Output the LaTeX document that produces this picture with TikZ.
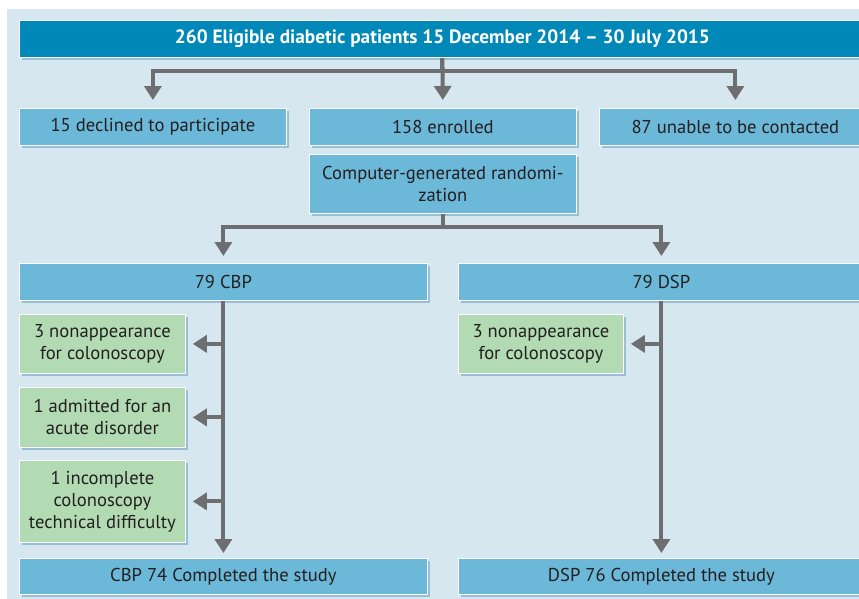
\documentclass[tikz,border=0pt]{standalone}
\usepackage{fontspec}
\setmainfont{PT Sans}
\usetikzlibrary{arrows.meta,shadows}
\definecolor{panel}{HTML}{D7E7F0}
\definecolor{topc}{HTML}{0088B8}
\definecolor{boxc}{HTML}{6CB8D8}
\definecolor{greenc}{HTML}{B2DBB4}
\definecolor{arrc}{HTML}{6D6E71}
\definecolor{txt}{HTML}{231F20}
\definecolor{shad}{HTML}{7FAFCB}
\tikzset{
  base/.style={draw=white, line width=0.8pt, anchor=north west, inner sep=2pt, align=center,
    text=txt, font=\fontsize{18.6}{22}\selectfont,
    drop shadow={shadow xshift=3pt, shadow yshift=-3pt, fill=shad, opacity=0.7}},
  bluebox/.style={base, fill=boxc},
  greenbox/.style={base, fill=greenc},
  topbox/.style={base, fill=topc, text=white, font=\fontsize{19.3}{22}\selectfont\bfseries},
  arr/.style={draw=arrc, line width=4pt, -{Triangle[length=14pt,width=17pt]}},
  ln/.style={draw=arrc, line width=4pt}
}
\begin{document}
\begin{tikzpicture}[x=1pt,y=-1pt]
\useasboundingbox (0,0) rectangle (859,598);
\clip (0,0) rectangle (859,598);
\fill[white] (0,0) rectangle (859,598);
\fill[panel] (7,9) rectangle (880,620);
% nodes
\node[topbox, minimum width=846pt, minimum height=37pt] (top) at (19,20) {260 Eligible diabetic patients 15 December 2014 -- 30 July 2015};
\node[bluebox, minimum width=267pt, minimum height=37pt] (declined) at (19,108) {15 declined to participate};
\node[bluebox, minimum width=267pt, minimum height=37pt] (enrolled) at (309,108) {158 enrolled};
\node[bluebox, minimum width=272pt, minimum height=37pt] (unable) at (599,108) {87 unable to be contacted};
\node[bluebox, minimum width=267pt, minimum height=59pt] (rand) at (309,154) {Computer-generated randomi-\\zation};
\node[bluebox, minimum width=408pt, minimum height=37pt] (cbp) at (19,263) {79 CBP};
\node[bluebox, minimum width=406pt, minimum height=37pt] (dsp) at (458,263) {79 DSP};
\node[greenbox, minimum width=166pt, minimum height=59pt] (g1) at (19,314) {3 nonappearance\\for colonoscopy};
\node[greenbox, minimum width=166pt, minimum height=60pt] (g2) at (19,387) {1 admitted for an\\acute disorder};
\node[greenbox, minimum width=166pt, minimum height=82pt] (g3) at (19,460) {1 incomplete\\colonoscopy\\technical difficulty};
\node[greenbox, minimum width=165pt, minimum height=59pt] (g4) at (458,314) {3 nonappearance\\for colonoscopy};
\node[bluebox, minimum width=408pt, minimum height=36pt] (cbpend) at (19,558) {CBP 74 Completed the study};
\node[bluebox, minimum width=406pt, minimum height=36pt] (dspend) at (458,558) {DSP 76 Completed the study};
% connectors
\coordinate (j1) at ([yshift=-13pt]top.south);
\draw[ln] (top.south) -- (j1);
\draw[arr, shorten >=8pt] (j1) -| (declined.north);
\draw[arr, shorten >=8pt] (j1) -| (unable.north);
\draw[arr, shorten >=8pt] (top.south) -- (enrolled.north);
\coordinate (j2) at ([yshift=-13pt]rand.south);
\draw[ln] (rand.south) -- (j2);
\draw[arr, shorten >=7pt] (j2) -| (cbp.north);
\draw[arr, shorten >=7pt] (j2) -| (dsp.north);
\draw[arr, shorten >=5pt] (cbp.south) -- (cbpend.north);
\draw[arr, shorten >=5pt] (dsp.south) -- (dspend.north);
\draw[arr, shorten >=7pt] (cbp.south |- g1.east) -- (g1.east);
\draw[arr, shorten >=7pt] (cbp.south |- g2.east) -- (g2.east);
\draw[arr, shorten >=7pt] (cbp.south |- g3.east) -- (g3.east);
\draw[arr, shorten >=7pt] (dsp.south |- g4.east) -- (g4.east);
\end{tikzpicture}
\end{document}
